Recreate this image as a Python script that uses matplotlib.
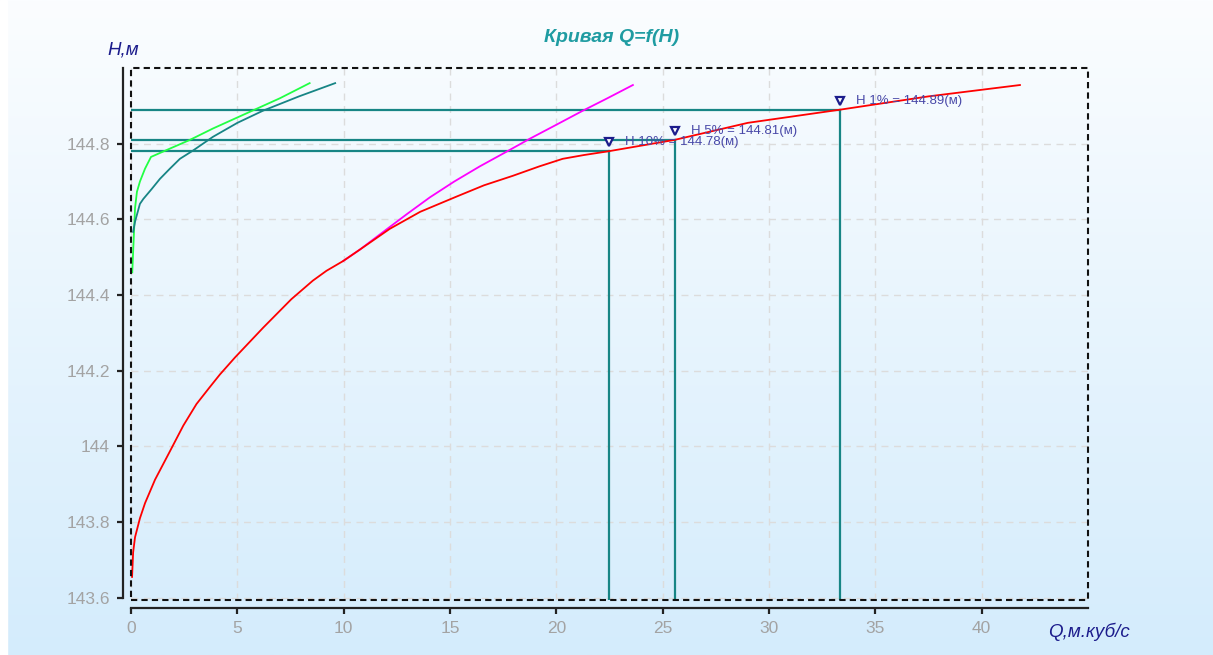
import matplotlib
matplotlib.use("Agg")
import matplotlib.pyplot as plt
import matplotlib.transforms as mtransforms
from matplotlib.patches import Rectangle
import numpy as np

plt.rcParams['font.family'] = ['Liberation Sans', 'DejaVu Sans']

# main rating curve Q=f(H)
q_main = [0.05, 0.1, 0.19, 0.42, 0.66, 1.13, 1.83, 2.46, 3.08, 3.71, 4.18, 4.89,
          6.22, 7.54, 8.55, 9.19, 9.98, 10.76, 12.17, 13.6, 15.3, 16.6, 17.95,
          19.2, 20.3, 21.3, 22.46, 25.56, 29.0, 33.36, 37.5, 41.8]
h_main = [143.655, 143.72, 143.76, 143.81, 143.85, 143.912, 143.987, 144.055,
          144.112, 144.157, 144.19, 144.235, 144.314, 144.389, 144.438, 144.464,
          144.49, 144.52, 144.575, 144.62, 144.66, 144.69, 144.715, 144.74,
          144.76, 144.77, 144.78, 144.81, 144.855, 144.89, 144.925, 144.955]

# extrapolated branch
q_extra = [9.98, 10.76, 12.17, 13.0, 14.05, 15.2, 16.4, 17.6, 18.75, 20.0, 21.24, 22.4, 23.6]
h_extra = [144.49, 144.52, 144.58, 144.615, 144.658, 144.70, 144.74, 144.777,
           144.813, 144.85, 144.887, 144.92, 144.955]

# floodplain curves
q_green = [0.06, 0.1, 0.19, 0.28, 0.42, 0.66, 0.94, 1.83, 2.77, 3.85, 5.7, 7.0, 8.4]
h_green = [144.46, 144.514, 144.63, 144.673, 144.70, 144.734, 144.765, 144.787,
           144.81, 144.84, 144.887, 144.92, 144.96]
q_teal = [0.1, 0.19, 0.42, 0.58, 0.97, 1.36, 1.83, 2.3, 2.92, 3.85, 5.0, 6.2, 7.9, 9.6]
h_teal = [144.567, 144.594, 144.641, 144.654, 144.68, 144.707, 144.734, 144.76,
          144.782, 144.818, 144.855, 144.887, 144.925, 144.96]

# design levels by exceedance probability
prob_labels = ['1%', '5%', '10%']
prob_q = [33.36, 25.56, 22.46]
prob_h = [144.89, 144.81, 144.78]

xticks = [0, 5, 10, 15, 20, 25, 30, 35, 40]
yticks = [143.6, 143.8, 144.0, 144.2, 144.4, 144.6, 144.8]

W, H = 1213, 655
fig = plt.figure(figsize=(W / 100, H / 100), dpi=100)

# background gradient
bg = fig.add_axes([0, 0, 1, 1], zorder=-10)
top = np.array([251, 253, 255]) / 255
bot = np.array([212, 236, 252]) / 255
t = np.linspace(0, 1, 256)[:, None]
grad = top + (bot - top) * t
bg.imshow(grad[:, None, :], aspect='auto', extent=[0, 1, 0, 1])
bg.set_xlim(0, 1)
bg.set_ylim(0, 1)
bg.add_patch(Rectangle((0, 0), 7 / W, 1, color='white', transform=bg.transAxes))
bg.set_axis_off()

ax = fig.add_axes([131 / W, 1 - 600 / H, 957 / W, 532 / H])
ax.patch.set_alpha(0)

teal = '#178585'
navy = '#1c1c8c'

ax.plot(q_main, h_main, color='#ff0000', lw=1.3, zorder=5)
ax.plot(q_extra, h_extra, color='#ff00ff', lw=1.3, zorder=4)
ax.plot(q_green, h_green, color='#22ff44', lw=1.3, zorder=4)
ax.plot(q_teal, h_teal, color=teal, lw=1.3, zorder=4)

# marker sits just above the level point, caption to the right of it
up = mtransforms.offset_copy(ax.transData, fig=fig, x=0, y=9, units='dots')
cap = mtransforms.offset_copy(ax.transData, fig=fig, x=16, y=9, units='dots')
for lab, q, h in zip(prob_labels, prob_q, prob_h):
    ax.plot([0, q], [h, h], color=teal, lw=1.6, zorder=3)
    ax.plot([q, q], [143.594, h], color=teal, lw=1.6, zorder=3)
    ax.plot([q], [h], marker='v', ms=6, mfc='white', mec=navy, mew=1.6,
            transform=up, zorder=6, clip_on=False)
    ax.text(q, h, 'H ' + lab + ' = ' + f'{h:.2f}' + '(м)', transform=cap,
            fontsize=9.5, color='#4848a8', va='center', ha='left', zorder=6)

ax.set_xlim(0, 45)
ax.set_ylim(143.594, 145.0)
ax.set_xticks(xticks)
ax.set_yticks(yticks)
ax.set_yticklabels([f'{v:g}' for v in yticks])

ax.grid(True, color='#dcdcdc', ls=(0, (5, 4)), lw=1)

for s in ['top', 'right']:
    ax.spines[s].set_visible(False)
ax.spines['left'].set_position(('outward', 5.8))
ax.spines['bottom'].set_position(('outward', 5.8))
ax.spines['left'].set_bounds(143.6, 145.0)
ax.spines['bottom'].set_bounds(0, 45)
for s in ['left', 'bottom']:
    ax.spines[s].set_linewidth(1.6)
    ax.spines[s].set_color('#222222')

ax.tick_params(direction='out', length=4.5, width=1.6, color='#222222',
               labelcolor='#a3a3a3', labelsize=12.5, pad=5)

# dashed plot frame
ax.add_patch(Rectangle((0, 0), 1, 1, transform=ax.transAxes, fill=False,
                       ec='#111111', lw=1.5, ls=(0, (3, 2)), clip_on=False, zorder=7))

fig.text(612 / W, 1 - 37 / H, 'Кривая Q=f(H)', color='#1f9ca2', fontsize=14,
         fontweight='bold', fontstyle='italic', ha='center', va='center')
fig.text(123 / W, 1 - 50 / H, 'H,м', color=navy, fontsize=13.5,
         fontstyle='italic', ha='center', va='center')
fig.text(1089 / W, 1 - 632 / H, 'Q,м.куб/с', color=navy, fontsize=13.5,
         fontstyle='italic', ha='center', va='center')

fig.savefig('out.png', dpi=100)
